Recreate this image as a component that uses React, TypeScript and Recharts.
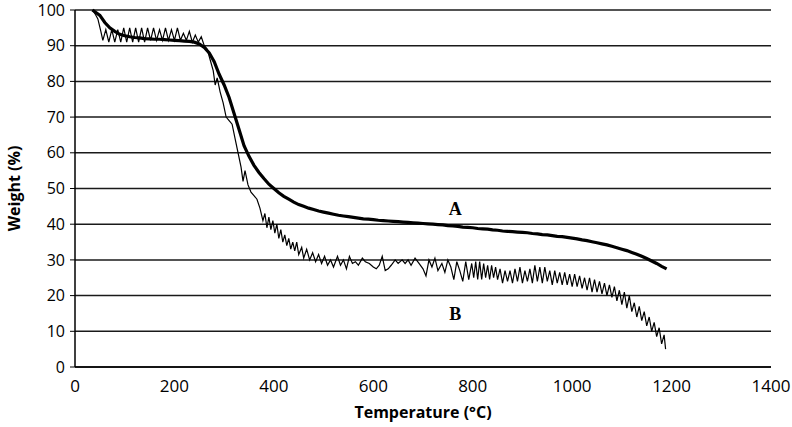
import { LineChart, Line, XAxis, YAxis, CartesianGrid, ReferenceDot } from 'recharts'

// sample A (thick, smooth curve)
const tempA = [
  35, 40, 50, 60, 70, 80, 90, 100, 110, 120, 130, 140, 150, 160, 170, 180, 190, 200, 210, 220,
  230, 240, 250, 260, 270, 280, 290, 300, 310, 320, 330, 340, 350, 360, 370, 380, 390, 400, 410, 420,
  430, 440, 450, 460, 470, 480, 490, 500, 510, 520, 530, 540, 550, 560, 570, 580, 590, 600, 610, 620,
  630, 640, 650, 660, 670, 680, 690, 700, 710, 720, 730, 740, 750, 760, 770, 780, 790, 800, 810, 820,
  830, 840, 850, 860, 870, 880, 890, 900, 910, 920, 930, 940, 950, 960, 970, 980, 990, 1000, 1010, 1020,
  1030, 1040, 1050, 1060, 1070, 1080, 1090, 1100, 1110, 1120, 1130, 1140, 1150, 1160, 1170, 1180, 1190,
]
const weightA = [
  100, 99.5, 98.5, 96.5, 95, 94, 93.2, 92.8, 92.5, 92.3, 92.2, 92, 91.9, 91.8, 91.8, 91.7, 91.6, 91.5, 91.4, 91.3,
  91.2, 91, 90.5, 89.5, 88, 85.5, 82, 79, 75.5, 71, 66.5, 62, 59, 56.5, 54.5, 52.8, 51.2, 50, 48.8, 47.8,
  47, 46.2, 45.5, 45, 44.5, 44.1, 43.7, 43.4, 43.1, 42.8, 42.5, 42.3, 42.1, 41.9, 41.7, 41.5, 41.4, 41.3, 41.1, 41,
  40.9, 40.8, 40.7, 40.6, 40.5, 40.4, 40.3, 40.2, 40.1, 40, 39.9, 39.8, 39.6, 39.5, 39.4, 39.2, 39.1, 39, 38.8, 38.7,
  38.6, 38.4, 38.3, 38.1, 38, 37.9, 37.8, 37.7, 37.6, 37.4, 37.3, 37.1, 37, 36.8, 36.6, 36.5, 36.3, 36.1, 35.9, 35.6,
  35.4, 35.1, 34.8, 34.5, 34.2, 33.8, 33.4, 33, 32.6, 32.1, 31.6, 31, 30.4, 29.7, 29, 28.2, 27.5,
]

// sample B (thin, noisy curve)
const tempB = [
  35, 40, 46, 52, 56, 62, 68, 74, 80, 86, 92, 98, 104, 110, 116, 122, 128, 134, 140, 146,
  152, 158, 164, 170, 176, 182, 188, 194, 200, 206, 212, 218, 224, 230, 236, 242, 248, 254, 260, 266,
  272, 278, 282, 286, 292, 298, 304, 310, 316, 322, 328, 334, 338, 342, 348, 354, 360, 366, 372, 378,
  382, 386, 390, 394, 398, 402, 406, 410, 414, 418, 422, 426, 430, 434, 438, 442, 446, 450, 456, 460,
  466, 472, 478, 484, 490, 496, 502, 508, 514, 520, 528, 534, 540, 546, 552, 558, 564, 570, 578, 584,
  592, 600, 606, 612, 618, 624, 630, 636, 644, 650, 658, 664, 670, 676, 684, 692, 700, 706, 712, 718,
  724, 730, 738, 744, 750, 756, 762, 768, 774, 780, 786, 792, 798, 802, 806, 810, 814, 818, 822, 826,
  830, 834, 838, 842, 846, 850, 855, 860, 865, 870, 875, 880, 885, 890, 895, 900, 905, 910, 915, 920,
  925, 930, 935, 940, 945, 950, 955, 960, 965, 970, 975, 980, 985, 990, 995, 1000, 1005, 1010, 1015, 1020,
  1025, 1030, 1035, 1040, 1045, 1050, 1055, 1060, 1065, 1070, 1075, 1080, 1085, 1090, 1095, 1100, 1105, 1110, 1115, 1120,
  1125, 1130, 1135, 1140, 1145, 1150, 1155, 1160, 1165, 1170, 1175, 1180, 1185, 1188,
]
const weightB = [
  100, 99, 97.5, 94, 91.5, 94.5, 91, 94.5, 91, 94.5, 91, 95, 91, 95, 91, 95, 91, 95, 91, 95,
  91.5, 95, 91.5, 94.5, 91.5, 95, 91.5, 94.5, 91.5, 95, 91.5, 93.5, 91.5, 94, 91, 93, 91, 92.5, 90, 89,
  86, 83, 79, 81, 77, 74, 70, 69, 68, 64, 60, 56, 52, 55, 51, 49, 48, 47, 44.5, 41,
  43, 39, 42, 38.5, 41, 37.5, 40, 36, 38.5, 35, 37, 34, 36, 33, 35, 32.5, 35, 31.5, 33.5, 30.5,
  33, 30, 32, 29.5, 31.5, 29, 31, 28.5, 30, 28, 31, 28.5, 30, 27.5, 31, 29, 29.5, 28.5, 30.5, 29.5,
  29, 28, 27.5, 28.5, 31, 27, 27.5, 28.5, 30, 29, 30, 29, 30, 28.5, 30.5, 29, 27.5, 25.5, 30, 28,
  30.5, 27, 29, 26.5, 30, 28, 24.5, 29.5, 27, 24, 29.5, 24.5, 29, 25, 29.5, 24.5, 29.5, 24.5, 29, 25,
  28.5, 24.5, 28.5, 25, 28, 24.5, 27.5, 23.5, 27, 24, 27, 23.5, 27.5, 24, 28, 23.5, 27, 24, 27.5, 23.5,
  28.5, 24, 28, 23.5, 28, 24, 27, 23, 27, 23.5, 26.5, 23, 26.5, 23, 26, 22.5, 26, 22.5, 25.5, 22,
  25, 21.5, 25, 21, 24.5, 21, 24, 20.5, 23.5, 20, 23, 19.5, 22.5, 18.5, 21.5, 17.5, 21, 16.5, 20, 15.5,
  18, 14, 17, 13, 15.5, 11.5, 14, 10, 12.5, 8.5, 11, 6.5, 9, 5,
]

const xTicks = [0, 200, 400, 600, 800, 1000, 1200, 1400]
const yTicks = [0, 10, 20, 30, 40, 50, 60, 70, 80, 90, 100]

const dataA = tempA.map((t, i) => ({ t, w: weightA[i] }))
const dataB = tempB.map((t, i) => ({ t, w: weightB[i] }))

const FONT = '"Open Sans", sans-serif'

export default function App() {
  return (
    <div style={{ position: 'absolute', left: 0, top: 0, background: '#fff' }}>
      <LineChart width={792} height={427} margin={{ top: 10, right: 21, left: 0, bottom: 0 }}>
        <CartesianGrid vertical={false} stroke="#1a1a1a" strokeWidth={1.5} />
        <XAxis
          type="number"
          dataKey="t"
          domain={[0, 1400]}
          ticks={xTicks}
          allowDataOverflow
          height={60}
          tickLine={false}
          tickMargin={7}
          axisLine={{ stroke: '#000', strokeWidth: 1.5 }}
          tick={{ fill: '#000', fontSize: 17, fontFamily: FONT }}
          label={{ value: 'Temperature (°C)', position: 'insideBottom', offset: 9, fill: '#000', fontSize: 16, fontWeight: 'bold', fontFamily: FONT }}
        />
        <YAxis
          type="number"
          domain={[0, 100]}
          ticks={yTicks}
          width={75}
          tickSize={5}
          tickMargin={5}
          tickLine={{ stroke: '#000' }}
          axisLine={{ stroke: '#000', strokeWidth: 1.5 }}
          tick={{ fill: '#000', fontSize: 16, fontFamily: FONT }}
          label={{ value: 'Weight (%)', angle: -90, position: 'insideLeft', offset: 14, fill: '#000', fontSize: 16, fontWeight: 'bold', fontFamily: FONT, style: { textAnchor: 'middle' } }}
        />
        <Line data={dataA} dataKey="w" type="linear" stroke="#000" strokeWidth={3.2} dot={false} isAnimationActive={false} />
        <Line data={dataB} dataKey="w" type="linear" stroke="#000" strokeWidth={1.2} dot={false} isAnimationActive={false} />
        <ReferenceDot x={765} y={44.5} r={0} fill="none" stroke="none"
          label={{ value: 'A', position: 'center', fill: '#000', fontSize: 18, fontWeight: 'bold', fontFamily: '"Liberation Serif", serif' }} />
        <ReferenceDot x={765} y={15} r={0} fill="none" stroke="none"
          label={{ value: 'B', position: 'center', fill: '#000', fontSize: 18, fontWeight: 'bold', fontFamily: '"Liberation Serif", serif' }} />
      </LineChart>
    </div>
  )
}
